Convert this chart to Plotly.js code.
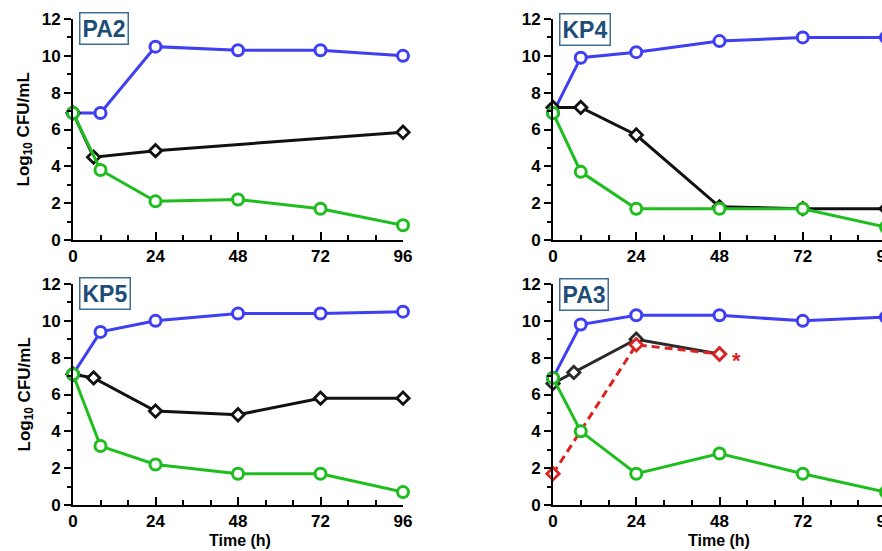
<!DOCTYPE html>
<html>
<head>
<meta charset="utf-8">
<script src="https://cdn.plot.ly/plotly-3.0.1.min.js"></script>
<style>
html,body{margin:0;padding:0;overflow:hidden;background:#fff;width:882px;height:551px;}
#chart{width:900px;height:551px;}
</style>
</head>
<body>
<div id="chart"></div>
<script>
// ---- Data ----
const panelNames = ["PA2", "KP4", "KP5", "PA3"];
const timeTicks = [0, 24, 48, 72, 96];

// PA2
const pa2BlueT = [0, 8, 24, 48, 72, 96];
const pa2Blue = [6.9, 6.9, 10.5, 10.3, 10.3, 10.0];
const pa2BlackT = [0, 6, 24, 96];
const pa2Black = [6.9, 4.5, 4.85, 5.85];
const pa2GreenT = [0, 8, 24, 48, 72, 96];
const pa2Green = [6.9, 3.8, 2.1, 2.2, 1.7, 0.8];

// KP4
const kp4BlueT = [0, 8, 24, 48, 72, 96];
const kp4Blue = [6.9, 9.9, 10.2, 10.8, 11.0, 11.0];
const kp4BlackT = [0, 8, 24, 48, 72, 96];
const kp4Black = [7.2, 7.2, 5.7, 1.8, 1.7, 1.7];
const kp4GreenT = [0, 8, 24, 48, 72, 96];
const kp4Green = [6.9, 3.7, 1.7, 1.7, 1.7, 0.7];

// KP5
const kp5BlueT = [0, 8, 24, 48, 72, 96];
const kp5Blue = [7.1, 9.4, 10.0, 10.4, 10.4, 10.5];
const kp5BlackT = [0, 6, 24, 48, 72, 96];
const kp5Black = [7.1, 6.9, 5.1, 4.9, 5.8, 5.8];
const kp5GreenT = [0, 8, 24, 48, 72, 96];
const kp5Green = [7.1, 3.2, 2.2, 1.7, 1.7, 0.7];

// PA3
const pa3BlueT = [0, 8, 24, 48, 72, 96];
const pa3Blue = [6.9, 9.8, 10.3, 10.3, 10.0, 10.2];
const pa3BlackT = [0, 6, 24, 48];
const pa3Black = [6.6, 7.2, 9.0, 8.2];
const pa3RedT = [0, 24, 48];
const pa3Red = [1.7, 8.7, 8.2];
const pa3GreenT = [0, 8, 24, 48, 72, 96];
const pa3Green = [6.9, 4.0, 1.7, 2.8, 1.7, 0.7];
const pa3Star = {t: 53, v: 7.85, text: "*"};

// ---- Styles ----
const BLUE = "rgb(62,62,245)";
const GREEN = "rgb(30,190,30)";
const BLACK = "#111";
const BLACK2 = "#2a2a2a";
const RED = "rgb(222,34,34)";
const FONT = "Liberation Sans, Arial, sans-serif";
const W = 900, H = 551;

function circleTrace(t, v, color, ax) {
  return {x: t, y: v, xaxis: "x" + ax, yaxis: "y" + ax, type: "scatter", mode: "lines+markers",
    line: {color: color, width: 3},
    marker: {symbol: "circle", size: 11, color: "#fff", line: {color: color, width: 3}},
    cliponaxis: false, hoverinfo: "x+y", showlegend: false};
}
function diamondTrace(t, v, color, ax, dash) {
  return {x: t, y: v, xaxis: "x" + ax, yaxis: "y" + ax, type: "scatter", mode: "lines+markers",
    line: {color: color, width: 3, dash: dash || "solid"},
    marker: {symbol: "diamond", size: 9.5, color: "#fff", line: {color: color, width: 2.8}},
    cliponaxis: false, hoverinfo: "x+y", showlegend: false};
}

const traces = [
  circleTrace(pa2BlueT, pa2Blue, BLUE, ""),
  diamondTrace(pa2BlackT, pa2Black, BLACK, ""),
  circleTrace(pa2GreenT, pa2Green, GREEN, ""),

  circleTrace(kp4BlueT, kp4Blue, BLUE, "2"),
  diamondTrace(kp4BlackT, kp4Black, BLACK, "2"),
  circleTrace(kp4GreenT, kp4Green, GREEN, "2"),

  circleTrace(kp5BlueT, kp5Blue, BLUE, "3"),
  diamondTrace(kp5BlackT, kp5Black, BLACK, "3"),
  circleTrace(kp5GreenT, kp5Green, GREEN, "3"),

  circleTrace(pa3BlueT, pa3Blue, BLUE, "4"),
  diamondTrace(pa3BlackT, pa3Black, BLACK2, "4"),
  diamondTrace(pa3RedT, pa3Red, RED, "4", "8px,5px"),
  circleTrace(pa3GreenT, pa3Green, GREEN, "4"),
];

// pixel geometry -> paper fractions
const colX = [[73, 403], [553, 886]];
const rowY = [[19, 240], [284, 505]];
function dx(px) { return [px[0] / W, px[1] / W]; }
function dy(py) { return [1 - py[1] / H, 1 - py[0] / H]; }

function xAxis(col, row, anchor) {
  return {domain: dx(colX[col]), anchor: anchor, range: [0, 96],
    tickmode: "array", tickvals: timeTicks, ticks: "inside", ticklen: 8, tickwidth: 2, tickcolor: "#000",
    minor: {ticks: "inside", tickmode: "linear", tick0: 0, dtick: 8, ticklen: 5, tickwidth: 2, tickcolor: "#000"},
    showline: true, linewidth: 2, linecolor: "#000", zeroline: false, showgrid: false,
    tickfont: {family: FONT, size: 17, color: "#000", weight: "bold"}, fixedrange: true};
}
function yAxis(col, row, anchor) {
  return {domain: dy(rowY[row]), anchor: anchor, range: [0, 12],
    tickmode: "linear", tick0: 0, dtick: 2, ticks: "outside", ticklen: 7, tickwidth: 2, tickcolor: "#000",
    minor: {ticks: "outside", tickmode: "linear", tick0: 0, dtick: 1, ticklen: 4, tickwidth: 2, tickcolor: "#000"},
    showline: true, linewidth: 2, linecolor: "#000", zeroline: false, showgrid: false,
    tickfont: {family: FONT, size: 17, color: "#000", weight: "bold"}, fixedrange: true};
}

const boxes = [[79, 12], [559, 13], [79, 277], [559, 278]];
const annotations = [];
panelNames.forEach((name, i) => {
  annotations.push({xref: "paper", yref: "paper", x: boxes[i][0] / W, y: 1 - boxes[i][1] / H,
    xanchor: "left", yanchor: "top", text: name, showarrow: false,
    font: {family: FONT, size: 23, color: "rgb(30,78,120)", weight: "bold"},
    bgcolor: "#fff", bordercolor: "rgb(60,110,150)", borderwidth: 1.5, borderpad: 2});
});
// y titles
[129.5, 394.5].forEach(cy => {
  annotations.push({xref: "paper", yref: "paper", x: 25 / W, y: 1 - cy / H, xanchor: "center", yanchor: "middle",
    text: "Log<sub>10</sub> CFU/mL", textangle: -90, showarrow: false,
    font: {family: FONT, size: 17, color: "#000", weight: "bold"}});
});
// x titles
[240, 719].forEach(cx => {
  annotations.push({xref: "paper", yref: "paper", x: cx / W, y: 1 - 540 / H, xanchor: "center", yanchor: "middle",
    text: "Time (h)", showarrow: false,
    font: {family: FONT, size: 16, color: "#000", weight: "bold"}});
});
// significance star
annotations.push({xref: "x4", yref: "y4", x: pa3Star.t, y: pa3Star.v, xanchor: "center", yanchor: "middle",
  text: pa3Star.text, showarrow: false, font: {family: FONT, size: 22, color: RED, weight: "bold"}});

const layout = {
  width: W, height: H, margin: {l: 0, r: 0, t: 0, b: 0},
  paper_bgcolor: "#fff", plot_bgcolor: "rgba(0,0,0,0)",
  showlegend: false,
  xaxis: xAxis(0, 0, "y"), yaxis: yAxis(0, 0, "x"),
  xaxis2: xAxis(1, 0, "y2"), yaxis2: yAxis(1, 0, "x2"),
  xaxis3: xAxis(0, 1, "y3"), yaxis3: yAxis(0, 1, "x3"),
  xaxis4: xAxis(1, 1, "y4"), yaxis4: yAxis(1, 1, "x4"),
  annotations: annotations
};

Plotly.newPlot("chart", traces, layout, {displayModeBar: false, staticPlot: true});
</script>
</body>
</html>
